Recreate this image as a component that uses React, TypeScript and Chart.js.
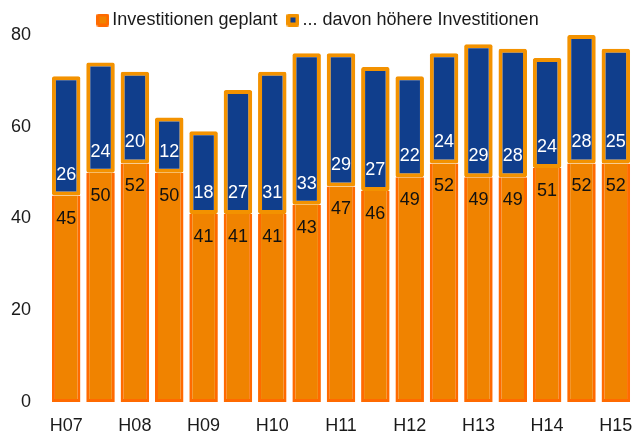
import React, { useEffect, useRef } from "react";
import { Chart, registerables } from "chart.js";

Chart.register(...registerables);

const categories = ["H07", "", "H08", "", "H09", "", "H10", "", "H11", "", "H12", "", "H13", "", "H14", "", "H15"];
const geplant = [45, 50, 52, 50, 41, 41, 41, 43, 47, 46, 49, 52, 49, 49, 51, 52, 52];
const hoehere = [26, 24, 20, 12, 18, 27, 31, 33, 29, 27, 22, 24, 29, 28, 24, 28, 25];
const yTicks = [0, 20, 40, 60, 80];
const seriesNames = ["Investitionen geplant", "... davon höhere Investitionen"];

const FONT = "'Liberation Sans', Arial, Helvetica, sans-serif";

function roundRect(ctx: CanvasRenderingContext2D, x: number, y: number, w: number, h: number, r: number) {
  ctx.beginPath();
  ctx.moveTo(x + r, y);
  ctx.lineTo(x + w - r, y);
  ctx.quadraticCurveTo(x + w, y, x + w, y + r);
  ctx.lineTo(x + w, y + h - r);
  ctx.quadraticCurveTo(x + w, y + h, x + w - r, y + h);
  ctx.lineTo(x + r, y + h);
  ctx.quadraticCurveTo(x, y + h, x, y + h - r);
  ctx.lineTo(x, y + r);
  ctx.quadraticCurveTo(x, y, x + r, y);
  ctx.closePath();
}

function legendMarker(outer: string, inner: string, inset: number) {
  const c = document.createElement("canvas");
  c.width = 13;
  c.height = 13;
  const g = c.getContext("2d")!;
  g.fillStyle = outer;
  roundRect(g, 0, 0, 13, 13, 2.5);
  g.fill();
  g.fillStyle = inner;
  g.fillRect(inset, inset, 13 - 2 * inset, 13 - 2 * inset);
  return c;
}

const labelPlugin = {
  id: "barValueLabels",
  afterDatasetsDraw(chart: any) {
    const ctx = chart.ctx;
    ctx.save();
    ctx.font = `18px ${FONT}`;
    ctx.textAlign = "center";
    ctx.textBaseline = "middle";
    chart.data.datasets.forEach((ds: any, di: number) => {
      const meta = chart.getDatasetMeta(di);
      meta.data.forEach((el: any, i: number) => {
        const { x, y, base } = el.getProps(["x", "y", "base"], true);
        const v = ds.data[i];
        if (di === 0) {
          ctx.fillStyle = "#111111";
          ctx.fillText(String(v), x, y + 23);
        } else {
          ctx.fillStyle = "#ffffff";
          ctx.fillText(String(v), x, base - 21);
        }
      });
    });
    ctx.restore();
  },
};

export default function App() {
  const ref = useRef<HTMLCanvasElement | null>(null);
  useEffect(() => {
    if (!ref.current) return;
    const marker1 = legendMarker("#FF6A00", "#F08300", 3);
    const marker2 = legendMarker("#F39200", "#103E8C", 4);
    const chart = new Chart(ref.current, {
      type: "bar",
      data: {
        labels: categories,
        datasets: [
          {
            label: seriesNames[0],
            data: geplant,
            backgroundColor: "#F08300",
            borderColor: "#FF6A00",
            borderWidth: 3,
            borderSkipped: "top",
            stack: "s",
            pointStyle: marker1 as any,
          },
          {
            label: seriesNames[1],
            data: hoehere,
            backgroundColor: "#103E8C",
            borderColor: "#F39200",
            borderWidth: 4,
            borderRadius: 2,
            borderSkipped: false,
            stack: "s",
            pointStyle: marker2 as any,
          },
        ],
      },
      options: {
        responsive: false,
        animation: false,
        devicePixelRatio: 1,
        layout: { padding: { top: -4, left: 8, right: 2, bottom: 0 } },
        datasets: {
          bar: { categoryPercentage: 1, barPercentage: 0.83 },
        },
        plugins: {
          legend: {
            position: "top",
            maxHeight: 39,
            labels: {
              font: { family: FONT, size: 18 },
              color: "#1a1a1a",
              usePointStyle: true,
              pointStyleWidth: 1,
              boxHeight: 13,
              padding: 15,
            },
          },
          tooltip: { enabled: false },
        },
        scales: {
          x: {
            stacked: true,
            grid: { display: false, drawTicks: false },
            border: { display: false },
            ticks: {
              autoSkip: false,
              maxRotation: 0,
              padding: 13,
              color: "#1a1a1a",
              font: { family: FONT, size: 18 },
            },
            afterFit: (s: any) => {
              s.height = 30;
              s.paddingLeft = 0;
              s.paddingRight = 0;
            },
          },
          y: {
            stacked: true,
            min: yTicks[0],
            max: yTicks[yTicks.length - 1],
            grid: { display: false, drawTicks: false },
            border: { display: false },
            ticks: {
              stepSize: 20,
              padding: 18,
              color: "#1a1a1a",
              font: { family: FONT, size: 18 },
            },
            afterFit: (s: any) => {
              s.width = 41;
            },
          },
        },
      },
      plugins: [labelPlugin],
    });
    return () => chart.destroy();
  }, []);
  return (
    <div style={{ position: "absolute", left: 0, top: 0, width: 635, height: 432, background: "#fff" }}>
      <canvas ref={ref} width={635} height={432} />
    </div>
  );
}
